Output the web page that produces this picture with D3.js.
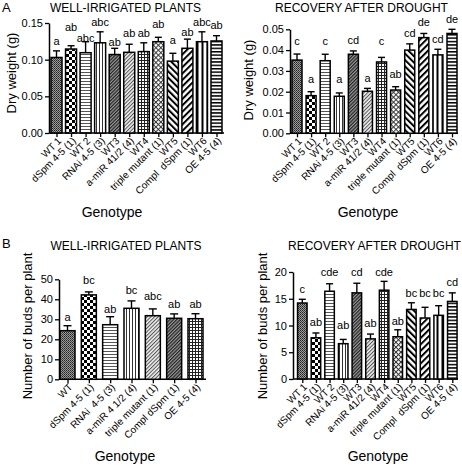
<!DOCTYPE html>
<html><head><meta charset="utf-8">
<script src="https://cdn.jsdelivr.net/npm/d3@7"></script>
<style>
body{margin:0;background:#fff;}
svg{display:block;font-family:"Liberation Sans",Arial,sans-serif;}
text{white-space:pre;}
</style></head><body>
<svg id="c" width="462" height="466"></svg>
<script>
// ---------- data ----------
const genotypesA = ["WT 1","dSpm 4-5 (1)","WT 2","RNAi 4-5 (3)","WT3","a-miR 41/2 (4)","WT4","triple mutant (1)","WT5","Compl  dSpm (1)","WT6","OE 4-5 (4)"];
const genotypesB = ["WT","dSpm 4-5 (1)","RNAi  4-5 (3)","a-miR 4 1/2 (4)","triple mutant (1)","Compl dSpm (1)","OE 4-5 (4)"];

const dryWell      = [0.103,0.1145,0.1095,0.123,0.107,0.110,0.111,0.1245,0.098,0.1155,0.1245,0.1255];
const dryWellSem   = [0.009,0.0045,0.015,0.015,0.0085,0.011,0.012,0.006,0.0107,0.0125,0.0135,0.0072];
const dryWellSig   = ["a","ab","abc","abc","ab","ab","ab","ab","a","ab","abc","ab"];
const dryWellSigAt = [0.120,0.1395,0.1245,0.1463,0.1186,0.1313,0.1313,0.1428,0.121,0.1323,0.1463,0.1414];
const dryWellTicks = [0,0.05,0.10,0.15];

const dryRec      = [0.0352,0.0181,0.0349,0.0178,0.038,0.0202,0.0343,0.0208,0.040,0.046,0.0377,0.048];
const dryRecSem   = [0.0029,0.0019,0.0031,0.0016,0.0016,0.0014,0.0022,0.0016,0.003,0.002,0.0027,0.002];
const dryRecSig   = ["c","a","c","a","cd","a","c","ab","cd","de","cd","de"];
const dryRecSigAt = [0.0425,0.024,0.0425,0.024,0.0428,0.0248,0.0425,0.0264,0.0464,0.0516,0.0433,0.0529];
const dryRecTicks = [0,0.01,0.02,0.03,0.04,0.05];

const budsWell      = [24.3,42.2,27.3,35.5,31.8,30.5,30.3];
const budsWellSem   = [2.5,1.5,4,3.7,3.4,2.2,2.5];
const budsWellSig   = ["a","bc","ab","bc","abc","ab","ab"];
const budsWellSigAt = [29.3,47.6,33,42.6,39.6,35.5,35.5];
const budsWellTicks = [0,10,20,30,40,50];

const budsRec      = [14.2,7.7,16.4,6.6,16.1,7.5,16.6,7.9,13.0,11.4,11.9,14.5];
const budsRecSem   = [0.7,0.9,1.4,0.8,1.8,0.9,1.65,1.3,1.25,2.0,1.8,1.6];
const budsRecSig   = ["c","ab","cde","ab","cd","ab","cde","ab","bc","bc","bc","cd"];
const budsRecSigAt = [16.0,9.9,19.25,9.3,19.25,9.8,19.25,10.1,15.4,15.4,15.4,17.4];
const budsRecTicks = [0,5,10,15,20];

const patternsA = ["p1","p2","p3","p4","p5","p6","p7","p8","p9","p10","p11","p12"];
const patternsB = ["p1","p2","p3","p4","p6","p5","p7"];

// ---------- patterns ----------
const svg = d3.select("#c");
svg.append("rect").attr("width",462).attr("height",466).attr("fill","#fff");
const defs = svg.append("defs");
function pat(id,w,h,rot,draw){
  const p = defs.append("pattern").attr("id",id).attr("patternUnits","userSpaceOnUse")
    .attr("width",w).attr("height",h);
  if(rot) p.attr("patternTransform",`rotate(${rot})`);
  draw(p);
}
pat("p1",2,2,0,p=>{p.append("rect").attr("width",2).attr("height",2).attr("fill","#9a9a9a");
  p.append("rect").attr("width",1).attr("height",1).attr("fill","#222");
  p.append("rect").attr("x",1).attr("y",1).attr("width",1).attr("height",1).attr("fill","#444");});
pat("p2",6,6,0,p=>{p.append("rect").attr("width",6).attr("height",6).attr("fill","#fff");
  p.append("rect").attr("width",3).attr("height",3).attr("fill","#000");
  p.append("rect").attr("x",3).attr("y",3).attr("width",3).attr("height",3).attr("fill","#000");});
pat("p3",3,3,0,p=>{p.append("rect").attr("width",3).attr("height",3).attr("fill","#fff");
  p.append("rect").attr("width",3).attr("height",1).attr("fill","#555");});
pat("p4",3,3,0,p=>{p.append("rect").attr("width",3).attr("height",3).attr("fill","#fff");
  p.append("rect").attr("width",1).attr("height",3).attr("fill","#333");});
pat("p5",2.4,2.4,45,p=>{p.append("rect").attr("width",2.4).attr("height",2.4).attr("fill","#999");
  p.append("rect").attr("width",1.2).attr("height",2.4).attr("fill","#222");});
pat("p6",2.6,2.6,45,p=>{p.append("rect").attr("width",2.6).attr("height",2.6).attr("fill","#eee");
  p.append("rect").attr("width",1).attr("height",2.6).attr("fill","#555");});
pat("p7",3,3,0,p=>{p.append("rect").attr("width",3).attr("height",3).attr("fill","#fff");
  p.append("rect").attr("width",3).attr("height",1).attr("fill","#222");
  p.append("rect").attr("width",1).attr("height",3).attr("fill","#222");});
pat("p8",3.5,3.5,45,p=>{p.append("rect").attr("width",3.5).attr("height",3.5).attr("fill","#fff");
  p.append("rect").attr("width",3.5).attr("height",1).attr("fill","#333");
  p.append("rect").attr("width",1).attr("height",3.5).attr("fill","#333");});
pat("p9",4.5,4.5,-45,p=>{p.append("rect").attr("width",4.5).attr("height",4.5).attr("fill","#fff");
  p.append("rect").attr("width",2).attr("height",4.5).attr("fill","#000");});
pat("p10",4.5,4.5,45,p=>{p.append("rect").attr("width",4.5).attr("height",4.5).attr("fill","#fff");
  p.append("rect").attr("width",2).attr("height",4.5).attr("fill","#000");});
pat("p11",5,5,0,p=>{p.append("rect").attr("width",5).attr("height",5).attr("fill","#fff");
  p.append("rect").attr("x",1.5).attr("width",2).attr("height",5).attr("fill","#000");});
pat("p12",4,3.4,0,p=>{p.append("rect").attr("width",4).attr("height",3.4).attr("fill","#fff");
  p.append("rect").attr("width",4).attr("height",1.5).attr("fill","#000");});

// ---------- panel ----------
function panel(cfg){
  const g = svg.append("g");
  const y = d3.scaleLinear().domain([0,cfg.ymax]).range([cfg.y0,cfg.y1]);
  const x = d3.scalePoint().domain(cfg.cats).range([cfg.c0,cfg.c1]);
  const rows = cfg.cats.map((c,i)=>({c,v:cfg.vals[i],e:cfg.sem[i],s:cfg.sig[i],sa:cfg.sigAt[i],p:cfg.pats[i]}));

  // x axis
  const xa = g.append("g").attr("transform",`translate(0,${cfg.y0})`)
    .call(d3.axisBottom(x).tickSize(4).tickFormat(""));
  xa.select(".domain").remove();
  xa.selectAll("line").attr("stroke","#000").attr("stroke-width",1.3);
  g.append("line").attr("x1",cfg.ax).attr("x2",cfg.axEnd).attr("y1",cfg.y0).attr("y2",cfg.y0)
    .attr("stroke","#000").attr("stroke-width",1.5);

  // bars
  g.selectAll(".bar").data(rows).join("rect")
    .attr("x",d=>x(d.c)-cfg.bw/2).attr("width",cfg.bw)
    .attr("y",d=>y(d.v)).attr("height",d=>y(0)-y(d.v))
    .attr("fill",d=>`url(#${d.p})`).attr("stroke","#000").attr("stroke-width",1.5);
  // error bars
  g.selectAll(".err").data(rows).join("line")
    .attr("x1",d=>x(d.c)).attr("x2",d=>x(d.c))
    .attr("y1",d=>y(d.v)).attr("y2",d=>y(d.v+d.e))
    .attr("stroke","#000").attr("stroke-width",1.4);
  g.selectAll(".cap").data(rows).join("line")
    .attr("x1",d=>x(d.c)-cfg.cap).attr("x2",d=>x(d.c)+cfg.cap)
    .attr("y1",d=>y(d.v+d.e)).attr("y2",d=>y(d.v+d.e))
    .attr("stroke","#000").attr("stroke-width",1.4);
  // letters
  g.selectAll(".sig").data(rows).join("text")
    .attr("x",d=>x(d.c)).attr("y",d=>y(d.sa)).attr("text-anchor","middle")
    .attr("font-size",11).text(d=>d.s);

  // y axis
  const ya = g.append("g").attr("transform",`translate(${cfg.ax},0)`)
    .call(d3.axisLeft(y).tickValues(cfg.ticks).tickFormat(cfg.fmt).tickSize(4).tickSizeOuter(0).tickPadding(2));
  ya.select(".domain").attr("stroke-width",1.5);
  ya.selectAll("line").attr("stroke-width",1.3);
  ya.selectAll("text").attr("font-size",11).attr("font-family","Liberation Sans, Arial, sans-serif").attr("fill","#000");

  // x labels
  g.selectAll(".xl").data(rows).join("text")
    .attr("transform",d=>`translate(${x(d.c)+3},${cfg.y0+6}) rotate(-45)`)
    .attr("text-anchor","end").attr("dy","0.35em").attr("font-size",10).text(d=>d.c);

  // titles
  g.append("text").attr("x",cfg.tx).attr("y",cfg.ty).attr("text-anchor","middle")
    .attr("font-size",12).text(cfg.title);
  g.append("text").attr("transform",`translate(${cfg.ytx},${cfg.yty}) rotate(-90)`)
    .attr("text-anchor","middle").attr("font-size",13).text(cfg.ytitle);
  g.append("text").attr("x",cfg.gx).attr("y",cfg.gy).attr("text-anchor","middle")
    .attr("font-size",14).text("Genotype");
}

panel({cats:genotypesA,vals:dryWell,sem:dryWellSem,sig:dryWellSig,sigAt:dryWellSigAt,pats:patternsA,
  ymax:0.15,ticks:dryWellTicks,fmt:d3.format(".2f"),y0:133,y1:23,c0:56.5,c1:216.5,bw:11,cap:3.5,
  ax:49,axEnd:224,title:"WELL-IRRIGATED PLANTS",tx:125.5,ty:12,ytitle:"Dry weight (g)",ytx:16,yty:73,gx:112,gy:217});
panel({cats:genotypesA,vals:dryRec,sem:dryRecSem,sig:dryRecSig,sigAt:dryRecSigAt,pats:patternsA,
  ymax:0.05,ticks:dryRecTicks,fmt:d3.format(".2f"),y0:133.3,y1:29.3,c0:297,c1:452,bw:10,cap:3.5,
  ax:290,axEnd:458,title:"RECOVERY AFTER DROUGHT",tx:361.5,ty:12,ytitle:"Dry weight (g)",ytx:253,yty:80,gx:368,gy:217});
panel({cats:genotypesB,vals:budsWell,sem:budsWellSem,sig:budsWellSig,sigAt:budsWellSigAt,pats:patternsB,
  ymax:50,ticks:budsWellTicks,fmt:d3.format("d"),y0:379.3,y1:279.3,c0:67.5,c1:195.5,bw:15,cap:4,
  ax:59,axEnd:206,title:"WELL-IRRIGATED PLANTS",tx:126,ty:250,ytitle:"Number of buds per plant",ytx:32,yty:326,gx:125,gy:461});
panel({cats:genotypesA,vals:budsRec,sem:budsRecSem,sig:budsRecSig,sigAt:budsRecSigAt,pats:patternsA,
  ymax:20,ticks:budsRecTicks,fmt:d3.format("d"),y0:379,y1:272,c0:302.3,c1:452.3,bw:9.5,cap:3.5,
  ax:293,axEnd:458,title:"RECOVERY AFTER DROUGHT",tx:374.5,ty:250,ytitle:"Number of buds per plant",ytx:267,yty:326,gx:378,gy:461});

svg.append("text").attr("x",2).attr("y",12).attr("font-size",13).text("A");
svg.append("text").attr("x",2).attr("y",248).attr("font-size",13).text("B");
</script>
</body></html>
